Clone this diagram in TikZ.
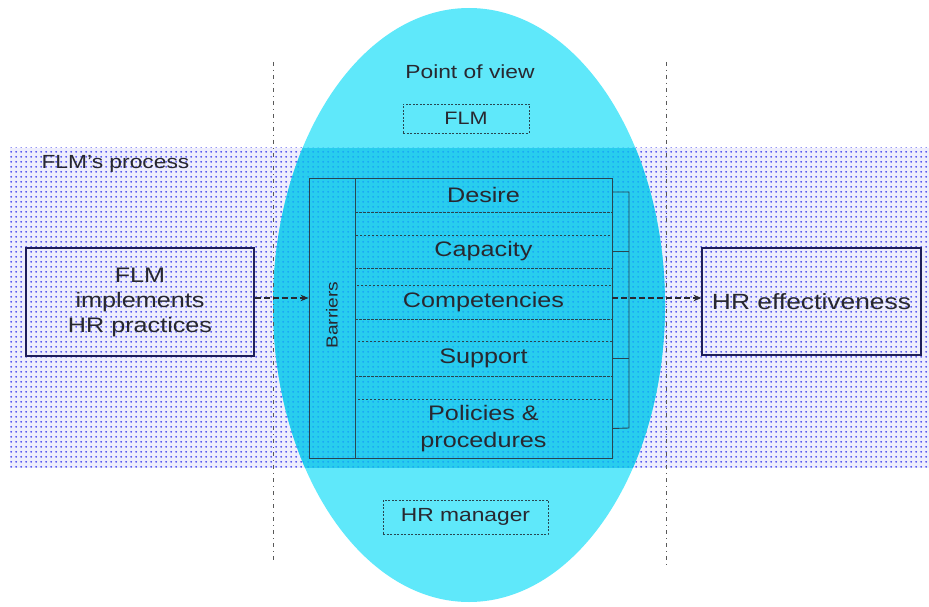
\documentclass[tikz,border=0pt]{standalone}
\usepackage{fontspec}
\setmainfont{Liberation Sans}[FakeStretch=1.2]
\usetikzlibrary{patterns.meta,arrows.meta}

\definecolor{ink}{RGB}{40,40,48}
\definecolor{navy}{RGB}{30,30,90}
\definecolor{bandbg}{RGB}{238,238,253}
\definecolor{dotblue}{RGB}{40,40,235}
\definecolor{cyanlight}{RGB}{95,232,250}
\definecolor{cyandark}{RGB}{40,205,238}
\definecolor{rowline}{RGB}{40,70,80}

\tikzdeclarepattern{
  name=bluedots,
  type=uncolored,
  bounding box={(0pt,0pt) and (4.6pt,4.6pt)},
  tile size={(4.6pt,4.6pt)},
  code={\fill (2.3pt,2.3pt) circle (1.05pt);}
}

\tikzset{
  txt/.style={text=ink, font=\fontsize{21}{25}\selectfont},
  solidbox/.style={draw=navy, line width=1.1pt, inner sep=0pt, txt, align=center},
  dashbox/.style={draw=rowline, line width=0.8pt, dash pattern=on 2pt off 1.5pt, inner sep=0pt, txt},
  rowbox/.style={draw=rowline, line width=0.8pt, dash pattern=on 2.5pt off 1.5pt, inner sep=0pt,
                 minimum width=257, txt, align=center},
  divider/.style={draw=gray!70!black, line width=0.9pt, dash pattern=on 4pt off 4pt on 1pt off 4pt},
  link/.style={draw=rowline, line width=0.9pt},
  flow/.style={draw=ink, line width=1.1pt, dash pattern=on 6pt off 3pt, -{Stealth[length=8pt,width=6.5pt]}}
}

\begin{document}
\begin{tikzpicture}[x=1pt,y=-1pt]
\useasboundingbox (0,0) rectangle (929,607);

% dotted process band
\fill[bandbg] (10,148) rectangle (929,468);
\fill[pattern={bluedots}, pattern color=dotblue] (10,148) rectangle (929,468);

% point-of-view ellipse
\fill[cyanlight] (469,305) ellipse [x radius=196, y radius=297];
\begin{scope}
  \clip (469,305) ellipse [x radius=196, y radius=297];
  \fill[cyandark] (10,148) rectangle (929,468);
  \fill[pattern={bluedots}, pattern color=blue!60!cyan, opacity=0.45] (10,148) rectangle (929,468);
\end{scope}

% phase dividers
\draw[divider] (273,62) -- (273,562);
\draw[divider] (666,62) -- (666,568);

% labels of the view and process
\node[txt, font=\fontsize{19}{22}\selectfont] (pov) at (470,72) {Point of view};
\node[txt, font=\fontsize{19}{22}\selectfont, anchor=west] (proc) at (38,164) {FLM's process};

% viewpoint boxes
\node[dashbox, minimum width=126, minimum height=29, font=\fontsize{18}{21}\selectfont] (flm) at (466,118.5) {FLM};
\node[dashbox, minimum width=165, minimum height=34, font=\fontsize{19}{22}\selectfont] (hrm) at (465.5,517) {HR manager};

% input and outcome
\node[solidbox, minimum width=228, minimum height=108] (impl) at (140,302) {FLM\\implements\\HR practices};
\node[solidbox, minimum width=219, minimum height=107, font=\fontsize{22}{26}\selectfont] (eff) at (811.5,301.5) {HR effectiveness};

% barriers frame
\node[draw=rowline, line width=0.9pt, minimum width=303, minimum height=280, inner sep=0pt] (bar) at (460.5,318) {};
\draw[link] (355,178) -- (355,458);
\node[txt, font=\fontsize{16}{19}\selectfont, rotate=90] (barlbl) at (332,315) {Barriers};

% barrier rows
\node[rowbox, minimum height=34] (desire) at (483.5,195) {Desire};
\node[rowbox, minimum height=33] (capacity) at (483.5,251.5) {Capacity};
\node[rowbox, minimum height=34] (comp) at (483.5,302) {Competencies};
\node[rowbox, minimum height=35] (support) at (483.5,358.5) {Support};
\node[rowbox, minimum height=59, font=\fontsize{21}{27}\selectfont] (policies) at (483.5,428.5) {Policies \&\\procedures};

% bracket gathering the rows
\coordinate (jtop) at (629,192);
\coordinate (jbot) at (629,428);
\draw[link] ([yshift=3pt]desire.east) -- (jtop) -- (jbot) -- (policies.east);
\draw[link] (capacity.east) -- (capacity.east -| jtop);
\draw[link] (support.east) -- (support.east -| jtop);

% flows
\draw[flow] ([yshift=4pt]impl.east) -- ([yshift=4pt]impl.east -| bar.west);
\draw[flow] ([yshift=4pt]comp.east) -- ([yshift=4pt]comp.east -| eff.west);
\end{tikzpicture}
\end{document}
